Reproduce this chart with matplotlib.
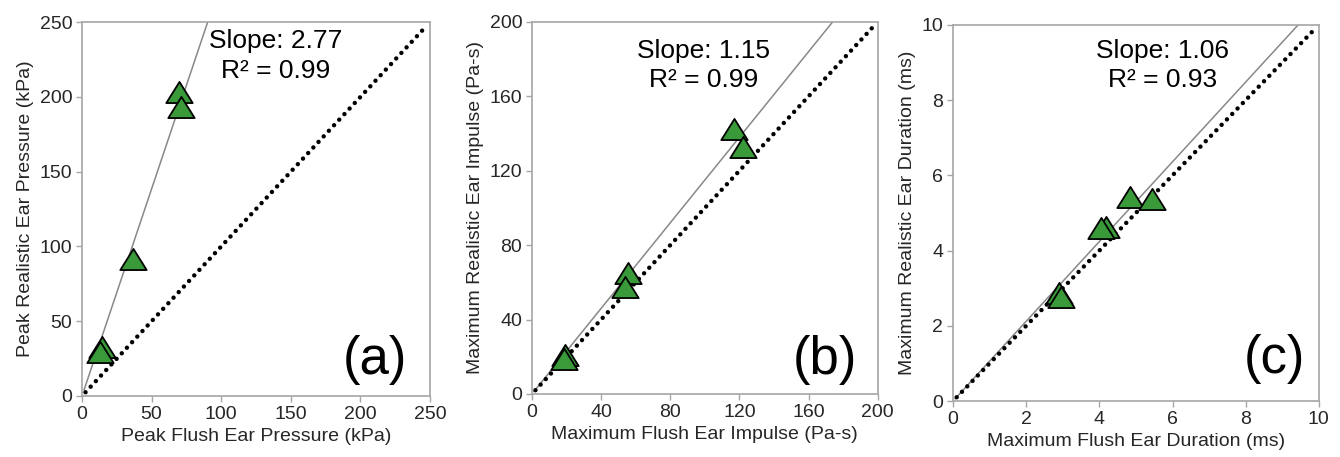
import matplotlib
matplotlib.use('Agg')
import matplotlib.pyplot as plt
import numpy as np
from matplotlib.path import Path

plt.rcParams['font.family'] = ['Liberation Sans', 'DejaVu Sans']

# data
press_flush = [69.6, 70.8, 36.6, 14.4, 13.2]
press_real = [203, 193, 91.3, 32.5, 29.5]
imp_flush = [116.8, 121.8, 55.5, 53.9, 19.3, 18.5]
imp_real = [142.7, 132.9, 64.8, 57.7, 21.0, 19.0]
dur_flush = [4.85, 5.44, 4.19, 4.05, 2.91, 2.96]
dur_real = [5.43, 5.37, 4.64, 4.59, 2.86, 2.77]

slopes = [2.77, 1.15, 1.06]
r2 = ['0.99', '0.99', '0.93']
limits = [250, 200, 10]
ticks = [np.arange(0, 251, 50), np.arange(0, 201, 40), np.arange(0, 11, 2)]
xlabels = ['Peak Flush Ear Pressure (kPa)', 'Maximum Flush Ear Impulse (Pa-s)',
           'Maximum Flush Ear Duration (ms)']
ylabels = ['Peak Realistic Ear Pressure (kPa)', 'Maximum Realistic Ear Impulse (Pa-s)',
           'Maximum Realistic Ear Duration (ms)']
tags = ['(a)', '(b)', '(c)']

xs = [press_flush, imp_flush, dur_flush]
ys = [press_real, imp_real, dur_real]

# wide flat triangle marker
tri = Path([(0, 0.8), (-1, -0.8), (1, -0.8), (0, 0.8)],
           [Path.MOVETO, Path.LINETO, Path.LINETO, Path.CLOSEPOLY])

fig = plt.figure(figsize=(13.4, 4.57), dpi=100)
boxes = [[0.0612, 0.1335, 0.2597, 0.818],
         [0.397, 0.138, 0.258, 0.814],
         [0.7112, 0.1225, 0.273, 0.823]]
# text placement in axes fractions
txt_x = [0.557, 0.497, 0.572]
slope_y = [0.930, 0.903, 0.912]
r2_y = [0.850, 0.825, 0.835]
tag_x = [0.934, 0.94, 0.962]
tag_y = [0.03, 0.025, 0.045]

grey = '#a6a6a6'
for i in range(3):
    ax = fig.add_axes(boxes[i])
    L = limits[i]
    # 1:1 dotted line
    ax.plot([0.01 * L, 0.99 * L], [0.01 * L, 0.99 * L], color='black',
            linestyle=(0, (0.01, 1.7)), lw=3.2, dash_capstyle='round', zorder=2)
    # fit line
    xe = L / slopes[i]
    ax.plot([0.006 * L, xe], [0.006 * L * slopes[i], L], color='#888888', lw=1.1, zorder=1)
    ax.scatter(xs[i], ys[i], marker=tri, s=19 ** 2, facecolor='#3a9a3a',
               edgecolor='black', linewidth=1.3, zorder=3)
    ax.set_xlim(0, L)
    ax.set_ylim(0, L)
    ax.set_xticks(ticks[i])
    ax.set_yticks(ticks[i])
    ax.set_xlabel(xlabels[i], fontsize=14, color='#262626', labelpad=4)
    ax.set_ylabel(ylabels[i], fontsize=14, color='#262626', labelpad=4)
    ax.tick_params(direction='out', length=4, width=1, color=grey,
                   labelsize=14, labelcolor='#262626', pad=3)
    for s in ax.spines.values():
        s.set_color(grey)
        s.set_linewidth(1.2)
    ax.text(txt_x[i], slope_y[i], 'Slope: %.2f' % slopes[i], transform=ax.transAxes,
            ha='center', va='baseline', fontsize=19)
    ax.text(txt_x[i], r2_y[i], 'R² = ' + r2[i], transform=ax.transAxes,
            ha='center', va='baseline', fontsize=19)
    ax.text(tag_x[i], tag_y[i], tags[i], transform=ax.transAxes,
            ha='right', va='bottom', fontsize=38)

fig.savefig('out.png', dpi=100)
